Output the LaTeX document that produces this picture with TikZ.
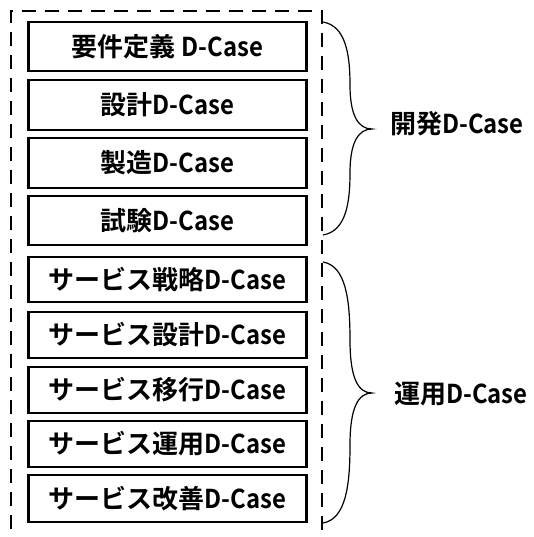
\documentclass[tikz,border=0pt]{standalone}
\usepackage{fontspec}
\newfontfamily\jp{Noto Sans CJK JP}[BoldFont={Noto Sans CJK JP Bold}]
\newcommand{\dcase}{\scalebox{0.92}[1]{D-Case}}
\begin{document}
\begin{tikzpicture}[x=1pt,y=-1pt,
  box/.style={draw=black,line width=2.8pt,minimum width=278pt,inner sep=0pt,font=\jp\bfseries\fontsize{26}{26}\selectfont},
  lbl/.style={anchor=west,inner sep=0pt,font=\jp\bfseries\fontsize{26}{26}\selectfont},
  frame/.style={draw=black,line width=2.5pt,dash pattern=on 14pt off 9pt},
  brc/.style={draw=black,line width=1.2pt}]
\useasboundingbox (0,0) rectangle (533,537);
\clip (0,0) rectangle (533,537);
\draw[frame] (11,575) -- (11,11) -- (322,11) -- (322,575);
\node[box,minimum height=49pt] (b1) at (167.5,46.5) {要件定義 \dcase};
\node[box,minimum height=50pt] (b2) at (167.5,105) {設計\dcase};
\node[box,minimum height=50pt] (b3) at (167.5,163) {製造\dcase};
\node[box,minimum height=49pt] (b4) at (167.5,220.5) {試験\dcase};
\node[box,minimum height=45pt] (b5) at (167.5,279.5) {サービス戦略\dcase};
\node[box,minimum height=46pt] (b6) at (167.5,335) {サービス設計\dcase};
\node[box,minimum height=46pt] (b7) at (167.5,390) {サービス移行\dcase};
\node[box,minimum height=46pt] (b8) at (167.5,444) {サービス運用\dcase};
\node[box,minimum height=47pt] (b9) at (167.5,498.5) {サービス改善\dcase};
\node[lbl] (l1) at (390,124) {開発\dcase};
\node[lbl] (l2) at (394,394) {運用\dcase};
\coordinate (t1) at (323,22);
\coordinate (m1) at (372,129);
\coordinate (u1) at (323,235);
\coordinate (t2) at (323,262);
\coordinate (m2) at (372,393);
\coordinate (u2) at (323,523);
\draw[brc] (t1) .. controls (346,26) and (350,55) .. (350,85)
  .. controls (350,115) and (358,129) .. (m1)
  .. controls (358,129) and (350,143) .. (350,173)
  .. controls (350,203) and (346,231) .. (u1);
\draw[brc] (t2) .. controls (346,266) and (350,300) .. (350,340)
  .. controls (350,378) and (358,393) .. (m2)
  .. controls (358,393) and (350,408) .. (350,445)
  .. controls (350,485) and (346,519) .. (u2);
\end{tikzpicture}
\end{document}
